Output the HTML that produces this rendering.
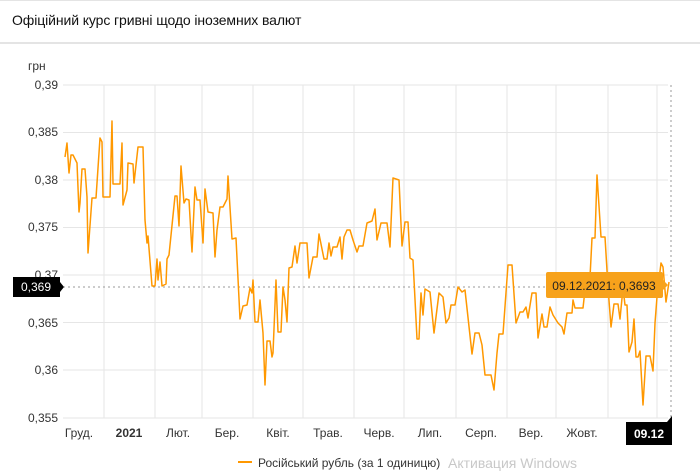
<!DOCTYPE html>
<html><head><meta charset="utf-8"><style>
body{margin:0;background:#fff;font-family:"Liberation Sans",sans-serif;width:700px;height:475px;overflow:hidden;position:relative}
.t{position:absolute;left:12px;top:12px;font-size:14px;color:#111;letter-spacing:-0.1px}
.hr{position:absolute;left:0;top:42px;width:700px;height:2px;background:#e4e4e4}
.top{position:absolute;left:0;top:0;width:700px;height:1px;background:#e4e4e4}
</style></head><body>
<div class="top"></div>
<div class="t">Офіційний курс гривні щодо іноземних валют</div>
<div class="hr"></div>
<svg width="700" height="475" style="position:absolute;left:0;top:0" font-family="Liberation Sans, sans-serif">
<g stroke="#e6e6e6" stroke-width="1">
<line x1="63" x2="668" y1="85" y2="85"/><line x1="63" x2="668" y1="132.5" y2="132.5"/><line x1="63" x2="668" y1="180" y2="180"/><line x1="63" x2="668" y1="227.5" y2="227.5"/><line x1="63" x2="668" y1="275" y2="275"/><line x1="63" x2="668" y1="322.5" y2="322.5"/><line x1="63" x2="668" y1="370" y2="370"/><line x1="63" x2="668" y1="418" y2="418"/>
<line x1="104" x2="104" y1="85" y2="418"/><line x1="155" x2="155" y1="85" y2="418"/><line x1="202" x2="202" y1="85" y2="418"/><line x1="253" x2="253" y1="85" y2="418"/><line x1="303" x2="303" y1="85" y2="418"/><line x1="354" x2="354" y1="85" y2="418"/><line x1="404" x2="404" y1="85" y2="418"/><line x1="456" x2="456" y1="85" y2="418"/><line x1="507" x2="507" y1="85" y2="418"/><line x1="556" x2="556" y1="85" y2="418"/><line x1="608" x2="608" y1="85" y2="418"/><line x1="657" x2="657" y1="85" y2="418"/>
</g>
<line x1="63" x2="668" y1="287" y2="287" stroke="#999" stroke-dasharray="2,3"/>
<line x1="671" x2="671" y1="85" y2="418" stroke="#999" stroke-dasharray="2,3"/>
<g font-size="12" fill="#333" text-anchor="end">
<text x="58" y="89">0,39</text><text x="58" y="136">0,385</text><text x="58" y="184">0,38</text><text x="58" y="231">0,375</text><text x="58" y="279">0,37</text><text x="58" y="327">0,365</text><text x="58" y="374">0,36</text><text x="58" y="422">0,355</text>
</g>
<text x="28" y="70" font-size="12" fill="#333">грн</text>
<g font-size="12" fill="#333" text-anchor="middle">
<text x="79" y="437">Груд.</text><text x="129" y="437" font-weight="bold">2021</text><text x="178" y="437">Лют.</text><text x="227" y="437">Бер.</text><text x="278" y="437">Квіт.</text><text x="328" y="437">Трав.</text><text x="379" y="437">Черв.</text><text x="430" y="437">Лип.</text><text x="481" y="437">Серп.</text><text x="531" y="437">Вер.</text><text x="582" y="437">Жовт.</text><text x="633" y="437">Л</text>
</g>
<polyline fill="none" stroke="#ff9800" stroke-width="1.5" stroke-linejoin="round" points="65,157 67,143 69,173 71,155 73,155 77,163 79,212 80,203 82,169 85,169 87,197 88,253 92,198 96,198 100,138 102,142 103,197 110,197 112,121 113,184 120,184 122,143 123,205 127,190 128,163 133,164 134,183 138,147 143,147 145,220 147,243 148,236 152,286 155,286 157,259 158,280 160,262 162,286 166,284 167,259 169,255 175,196 177,196 179,226 181,166 184,203 186,199 189,200 192,252 195,187 197,200 200,200 203,243 205,189 208,212 213,213 215,257 217,230 220,207 223,207 227,199 228,176 232,239 236,238 240,319 243,306 247,305 250,288 252,293 253,280 255,322 258,322 260,300 263,333 265,385 267,341 270,341 272,357 273,353 276,280 278,332 281,332 283,287 285,300 287,322 289,268 292,267 295,246 297,263 300,243 307,243 309,278 313,257 317,257 319,234 324,259 327,259 329,243 331,256 333,247 337,247 340,237 342,259 344,237 347,230 350,230 353,240 357,252 359,246 363,246 367,223 372,221 375,209 377,240 381,223 387,223 390,247 393,178 399,180 402,246 405,222 408,222 410,258 413,260 417,339 419,339 421,293 423,315 425,289 430,292 434,333 439,293 443,297 446,323 449,318 451,305 455,305 458,287 462,292 465,290 472,354 475,333 479,333 482,345 485,375 491,375 494,390 497,353 499,334 503,334 508,265 512,265 516,323 520,312 523,312 526,307 528,318 532,293 536,293 538,338 542,314 544,327 547,327 550,307 553,315 558,323 562,327 564,334 567,313 572,313 573,300 575,308 583,308 585,290 589,297 592,238 595,238 597,175 601,237 605,237 608,287 611,327 614,304 618,304 620,319 623,288 625,305 627,305 629,352 632,342 634,319 636,357 638,357 640,351 643,405 646,356 650,356 653,371 655,323 657,297 661,263 663,267 666,302 669,282"/>
<rect x="546" y="272" width="117" height="26" rx="2" fill="#f7a21b"/>
<polygon points="663,280 668,285 663,290" fill="#f7a21b"/>
<text x="604" y="290" font-size="12" fill="#222" text-anchor="middle">09.12.2021: 0,3693</text>
<rect x="13" y="277" width="47" height="20" fill="#000"/>
<polygon points="60,282 64,287 60,292" fill="#000"/>
<text x="36" y="291" font-size="12" fill="#fff" text-anchor="middle">0,369</text>
<rect x="626" y="422" width="46" height="23" fill="#000"/>
<polygon points="667,422 672,416 672,422" fill="#000"/>
<text x="649" y="438" font-size="12" fill="#fff" text-anchor="middle" font-weight="bold">09.12</text>
<line x1="238" x2="252" y1="462" y2="462" stroke="#ff9800" stroke-width="2"/>
<text x="258" y="467" font-size="12" fill="#333">Російський рубль (за 1 одиницю)</text>
<text x="448" y="468" font-size="14" fill="#c8c8c8">Активация Windows</text>
</svg>
</body></html>
